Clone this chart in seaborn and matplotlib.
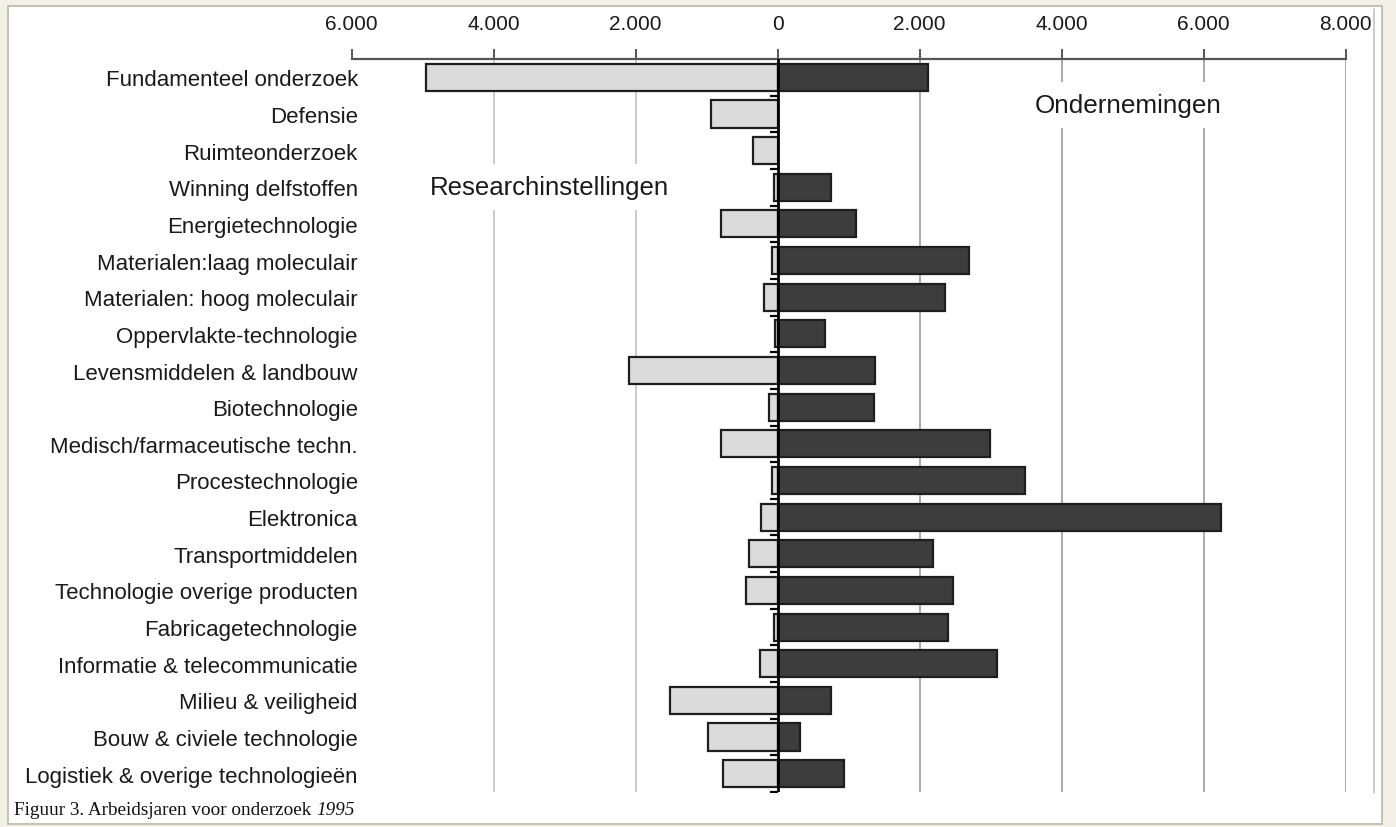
import numpy as np
import pandas as pd
import matplotlib
matplotlib.use("Agg")
import matplotlib.pyplot as plt
import seaborn as sns
from matplotlib.ticker import FuncFormatter, FixedLocator
from matplotlib.patches import Rectangle
from matplotlib.lines import Line2D

categories = [
    "Fundamenteel onderzoek",
    "Defensie",
    "Ruimteonderzoek",
    "Winning delfstoffen",
    "Energietechnologie",
    "Materialen:laag moleculair",
    "Materialen: hoog moleculair",
    "Oppervlakte-technologie",
    "Levensmiddelen & landbouw",
    "Biotechnologie",
    "Medisch/farmaceutische techn.",
    "Procestechnologie",
    "Elektronica",
    "Transportmiddelen",
    "Technologie overige producten",
    "Fabricagetechnologie",
    "Informatie & telecommunicatie",
    "Milieu & veiligheid",
    "Bouw & civiele technologie",
    "Logistiek & overige technologieën",
]
researchinstellingen = [4950, 930, 345, 45, 800, 75, 185, 40, 2085, 120, 795, 80,
                        230, 395, 445, 50, 245, 1515, 980, 770]
ondernemingen = [2115, 0, 0, 755, 1100, 2700, 2362, 668, 1370, 1357, 2990, 3485,
                 6240, 2190, 2470, 2405, 3095, 748, 320, 942]
xticks = [-6000, -4000, -2000, 0, 2000, 4000, 6000, 8000]

df = pd.DataFrame({"cat": categories,
                   "res": -np.array(researchinstellingen),
                   "ond": np.array(ondernemingen)})

sns.set_style("white")
plt.rcParams["font.family"] = ["Liberation Sans", "DejaVu Sans"]

W, H = 1396, 828
fig = plt.figure(figsize=(W / 100, H / 100), dpi=100)
fig.patch.set_facecolor("#f3f1e6")
fig.add_artist(Rectangle((8 / W, 3 / H), (1382 - 8) / W, (821 - 3) / H,
                         transform=fig.transFigure, facecolor="white",
                         edgecolor="#bcb8a4", lw=1.2, zorder=-5))
fig.add_artist(Line2D([1374 / W] * 2, [1 - 10 / H, 1 - 794 / H],
                      transform=fig.transFigure, color="#c4c4c4", lw=1.2))

ax = fig.add_axes([351.5 / W, 1 - 793 / H, 994 / W, (793 - 60) / H])
ax.patch.set_alpha(0)

light = "#dcdbdc"
dark = "#3d3d3d"
sns.barplot(data=df, x="res", y="cat", orient="h", color=light, saturation=1,
            edgecolor="#1e1e1e", linewidth=1.6, width=0.74, ax=ax, zorder=3)
sns.barplot(data=df[df["ond"] > 0], x="ond", y="cat", orient="h", color=dark,
            saturation=1, edgecolor="#1e1e1e", linewidth=1.6, width=0.74,
            ax=ax, zorder=3)

n = len(categories)
ax.set_ylim(n - 0.5, -0.5)
ax.set_xlim(xticks[0], xticks[-1])

# gridlines
for xv in xticks[1:]:
    if xv == 0:
        continue
    ax.vlines(xv, -0.5, n - 0.5, colors="#c6c6c6" if xv < 0 else "#a4a4a4",
              lw=1.3, zorder=1)

# zero axis with small ticks
ax.axvline(0, color="black", lw=2, zorder=5)
bounds = np.arange(n + 1) - 0.5
ax.plot(np.zeros(len(bounds) - 1), bounds[1:], linestyle="none", marker=0,
        markersize=6, markeredgewidth=1.6, color="black", zorder=5)

# top axis
ax.xaxis.tick_top()
ax.xaxis.set_major_locator(FixedLocator(xticks))
ax.xaxis.set_major_formatter(FuncFormatter(lambda v, p: f"{abs(int(v)):,}".replace(",", ".")))
for s in ["left", "right", "bottom"]:
    ax.spines[s].set_visible(False)
ax.spines["top"].set_color("#555555")
ax.spines["top"].set_linewidth(1.6)
ax.tick_params(axis="x", top=True, bottom=False, direction="out", length=7,
               width=1.4, color="#555555", labelsize=15, pad=12,
               labelcolor="#1a1a1a")
ax.tick_params(axis="y", left=False, labelsize=16, pad=-8, labelcolor="#1a1a1a")
ax.set_xlabel("")
ax.set_ylabel("")
for lab in ax.get_yticklabels():
    lab.set_zorder(6)

bb = dict(facecolor="white", edgecolor="none", pad=8)
ax.text(-4900, 3, "Researchinstellingen", fontsize=18.5, ha="left", va="center",
        color="#1a1a1a", bbox=bb, zorder=2)
ax.text(3630, 0.75, "Ondernemingen", fontsize=18.8, ha="left", va="center",
        color="#1a1a1a", bbox=bb, zorder=2)

t1 = fig.text(14 / W, 1 - 811 / H, "Figuur 3. Arbeidsjaren voor onderzoek ",
              family="Liberation Serif", fontsize=13.8, va="center", color="#111111")
r = fig.canvas.get_renderer()
ext = t1.get_window_extent(renderer=r)
fig.text(ext.x1 / W, 1 - 811 / H, "1995", family="Liberation Serif",
         style="italic", fontsize=13.8, va="center", color="#111111")

fig.savefig("out.png", dpi=100)
